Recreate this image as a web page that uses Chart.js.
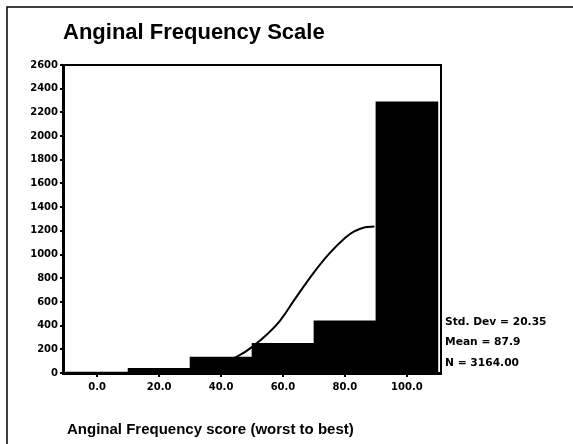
<!DOCTYPE html>
<html>
<head>
<meta charset="utf-8">
<script src="https://cdn.jsdelivr.net/npm/chart.js@4"></script>
<style>
  html, body { margin: 0; padding: 0; background: #fff; }
  canvas { display: block; }
</style>
</head>
<body>
<canvas id="grafica" width="573" height="444"></canvas>
<script>
// histogram bins (centres) and counts
const binCentres = [0, 20, 40, 60, 80, 100];
const binCounts = [8, 40, 135, 250, 440, 2289];

// fitted normal curve
const curveX = [30, 40, 46, 50, 55, 59, 64, 70, 75, 80, 83, 86.5, 89.5];
const curveY = [22, 80, 150, 220, 330, 440, 630, 850, 1010, 1140, 1195, 1230, 1237];

const xTicks = [0, 20, 40, 60, 80, 100];
const statLines = ['Std. Dev = 20.35', 'Mean = 87.9', 'N = 3164.00'];

const titulo = 'Anginal Frequency Scale';
const tituloX = 'Anginal Frequency score (worst to best)';

// plugin for the frame, title and stats
const decoracion = {
    id: 'decoracion',
    beforeDraw(chart) {
        const ctx = chart.ctx;
        ctx.save();
        ctx.fillStyle = '#fff';
        ctx.fillRect(0, 0, chart.width, chart.height);
        ctx.restore();
    },
    afterDraw(chart) {
        const ctx = chart.ctx;
        const a = chart.chartArea;
        ctx.save();
        // outer border (right and bottom fall outside the picture)
        ctx.strokeStyle = '#000';
        ctx.lineWidth = 1.5;
        ctx.strokeRect(7, 7, 600, 500);
        // plot frame top and right
        ctx.lineWidth = 2;
        ctx.beginPath();
        ctx.moveTo(a.left, a.top);
        ctx.lineTo(a.right, a.top);
        ctx.lineTo(a.right, a.bottom);
        ctx.stroke();

        ctx.fillStyle = '#000';
        ctx.textBaseline = 'middle';
        ctx.textAlign = 'left';
        ctx.font = 'bold 22px "Liberation Sans", Arial, sans-serif';
        ctx.fillText(titulo, 63, 33);

        ctx.font = 'bold 15px "Liberation Sans", Arial, sans-serif';
        ctx.fillText(tituloX, 67, 430);

        ctx.font = 'bold 10.7px "DejaVu Sans", sans-serif';
        statLines.forEach((t, i) => {
            ctx.fillText(t, 445, 322 + i * 20.5);
        });
        ctx.restore();
    }
};

const ctx = document.getElementById('grafica').getContext('2d');
const chart = new Chart(ctx, {
    data: {
        datasets: [{
            type: 'bar',
            data: binCentres.map((c, i) => ({ x: c, y: binCounts[i] })),
            backgroundColor: '#000',
            borderWidth: 0,
            barPercentage: 1,
            categoryPercentage: 1,
            order: 0
        }, {
            type: 'line',
            data: curveX.map((x, i) => ({ x: x, y: curveY[i] })),
            borderColor: '#000',
            borderWidth: 2,
            pointRadius: 0,
            tension: 0.4,
            fill: false,
            order: 1
        }]
    },
    options: {
        responsive: false,
        animation: false,
        layout: {
            padding: { left: 0, top: 65, right: 132, bottom: 0 }
        },
        plugins: {
            legend: { display: false },
            tooltip: { enabled: false },
            title: { display: false }
        },
        scales: {
            x: {
                type: 'linear',
                offset: false,
                min: -11,
                max: 111,
                afterBuildTicks: s => { s.ticks = xTicks.map(v => ({ value: v })); },
                afterFit: s => { s.height = 71; },
                border: { display: true, color: '#000', width: 3 },
                grid: { offset: false, drawOnChartArea: false, drawTicks: true, tickLength: 4, color: '#000', lineWidth: 2 },
                ticks: {
                    color: '#000',
                    padding: 4,
                    maxRotation: 0,
                    font: { family: 'DejaVu Sans', weight: 'bold', size: 10 },
                    callback: v => v.toFixed(1)
                }
            },
            y: {
                min: 0,
                max: 2600,
                afterFit: s => { s.width = 63; },
                border: { display: true, color: '#000', width: 3 },
                grid: { drawOnChartArea: false, drawTicks: true, tickLength: 3, color: '#000', lineWidth: 2 },
                ticks: {
                    stepSize: 200,
                    color: '#000',
                    padding: 2,
                    font: { family: 'DejaVu Sans', weight: 'bold', size: 10 },
                    callback: v => String(v)
                }
            }
        }
    },
    plugins: [decoracion]
});
</script>
</body>
</html>
